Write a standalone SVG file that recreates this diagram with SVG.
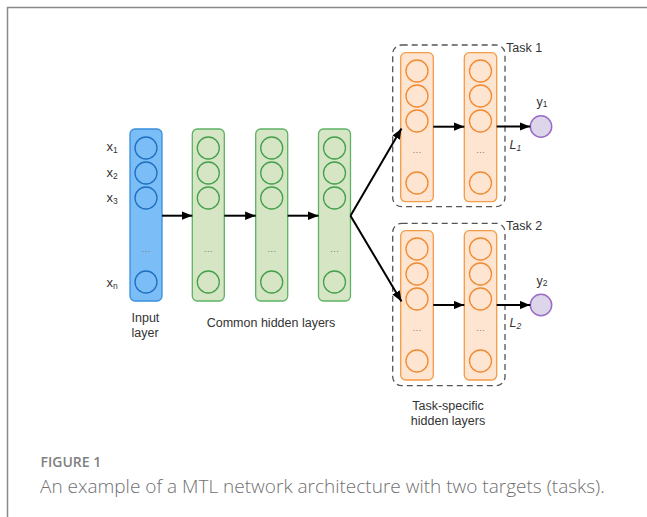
<svg xmlns="http://www.w3.org/2000/svg" width="647" height="517" viewBox="0 0 647 517">
<style>
text{font-family:"Liberation Sans",Arial,sans-serif;fill:#333}
.lbl{font-size:12.5px}
.xl{font-size:13px}
.sub{font-size:8.5px}
.dots{font-size:9px;fill:#777;text-anchor:middle}
.in rect{fill:#7bbef7;stroke:#3a8edc;stroke-width:1.3}
.in circle{fill:none;stroke:#1f6fc0;stroke-width:1.3}
.hid rect{fill:#d6e6c5;stroke:#5db265;stroke-width:1.3}
.hid circle{fill:none;stroke:#43a04c;stroke-width:1.3}
.tsk rect{fill:#fde5d2;stroke:#f59a45;stroke-width:1.3}
.tsk circle{fill:none;stroke:#f28a30;stroke-width:1.3}
.out circle{fill:#ddd6ea;stroke:#9a6cc8;stroke-width:1.5}
.box{fill:none;stroke:#555;stroke-width:1.3;stroke-dasharray:6,4}
.conn line{stroke:#000;stroke-width:2;marker-end:url(#ah)}
</style>
<defs>
<marker id="ah" viewBox="0 0 10 8" refX="10" refY="4" markerWidth="5.3" markerHeight="4.4" orient="auto" markerUnits="strokeWidth">
<path d="M0,0 L10,4 L0,8 z" fill="#000"/>
</marker>
</defs>
<path d="M7.5,517 V7.5 H647" fill="none" stroke="#8a8a8a" stroke-width="1.5"/>

<g id="task1-box"><rect class="box" x="392.7" y="45" width="112.3" height="161.7" rx="9"/><text class="lbl" x="506" y="51.5">Task 1</text></g>
<g id="task2-box"><rect class="box" x="392.7" y="223.3" width="112.3" height="162.4" rx="9"/><text class="lbl" x="506" y="230">Task 2</text></g>

<g id="input-layer" class="in">
<rect x="130" y="129" width="32" height="172" rx="5"/>
<circle cx="146" cy="148" r="11"/><circle cx="146" cy="173" r="11"/><circle cx="146" cy="198" r="11"/><circle cx="146" cy="282" r="11"/>
<text class="dots" x="146" y="254">···</text>
</g>
<g id="x-labels" class="xl">
<text x="106.5" y="150.5">x<tspan class="sub" dy="2">1</tspan></text>
<text x="106.5" y="176.5">x<tspan class="sub" dy="2">2</tspan></text>
<text x="106.5" y="201.5">x<tspan class="sub" dy="2">3</tspan></text>
<text x="106.5" y="286.5">x<tspan class="sub" dy="2">n</tspan></text>
</g>

<g id="hidden1" class="hid">
<rect x="192.3" y="129" width="32" height="172" rx="5"/>
<circle cx="208.3" cy="148" r="11"/><circle cx="208.3" cy="173" r="11"/><circle cx="208.3" cy="198" r="11"/><circle cx="208.3" cy="282" r="11"/>
<text class="dots" x="208.3" y="254">···</text>
</g>
<g id="hidden2" class="hid">
<rect x="255.7" y="129" width="32" height="172" rx="5"/>
<circle cx="271.7" cy="148" r="11"/><circle cx="271.7" cy="173" r="11"/><circle cx="271.7" cy="198" r="11"/><circle cx="271.7" cy="282" r="11"/>
<text class="dots" x="271.7" y="254">···</text>
</g>
<g id="hidden3" class="hid">
<rect x="318.5" y="129" width="32" height="172" rx="5"/>
<circle cx="334.5" cy="148" r="11"/><circle cx="334.5" cy="173" r="11"/><circle cx="334.5" cy="198" r="11"/><circle cx="334.5" cy="282" r="11"/>
<text class="dots" x="334.5" y="254">···</text>
</g>

<g id="task1-layer1" class="tsk">
<rect x="400.7" y="52.7" width="32.6" height="149" rx="5"/>
<circle cx="417" cy="71" r="11"/><circle cx="417" cy="96" r="11"/><circle cx="417" cy="121" r="11"/><circle cx="417" cy="183" r="11"/>
<text class="dots" x="417" y="155">···</text>
</g>
<g id="task1-layer2" class="tsk">
<rect x="464.3" y="52.7" width="32.4" height="149" rx="5"/>
<circle cx="480.5" cy="71" r="11"/><circle cx="480.5" cy="96" r="11"/><circle cx="480.5" cy="121" r="11"/><circle cx="480.5" cy="183" r="11"/>
<text class="dots" x="480.5" y="155">···</text>
</g>
<g id="task2-layer1" class="tsk">
<rect x="400.7" y="230.7" width="32.6" height="149.3" rx="5"/>
<circle cx="417" cy="249" r="11"/><circle cx="417" cy="274" r="11"/><circle cx="417" cy="299" r="11"/><circle cx="417" cy="361" r="11"/>
<text class="dots" x="417" y="333">···</text>
</g>
<g id="task2-layer2" class="tsk">
<rect x="464.3" y="230.7" width="32.4" height="149.3" rx="5"/>
<circle cx="480.5" cy="249" r="11"/><circle cx="480.5" cy="274" r="11"/><circle cx="480.5" cy="299" r="11"/><circle cx="480.5" cy="361" r="11"/>
<text class="dots" x="480.5" y="333">···</text>
</g>

<g id="output1" class="out"><circle cx="541" cy="126.5" r="10.7"/><text class="lbl" x="536.5" y="106">y<tspan class="sub" dy="1">1</tspan></text></g>
<g id="output2" class="out"><circle cx="541" cy="305" r="10.7"/><text class="lbl" x="536.5" y="284.5">y<tspan class="sub" dy="1">2</tspan></text></g>

<g id="connectors" class="conn">
<line x1="162" y1="215.7" x2="192.3" y2="215.7"/>
<line x1="224.3" y1="215.7" x2="255.7" y2="215.7"/>
<line x1="287.7" y1="215.7" x2="318.5" y2="215.7"/>
<line x1="350.5" y1="215.7" x2="401.5" y2="128.5"/>
<line x1="350.5" y1="215.7" x2="401.5" y2="301.5"/>
<line x1="433.3" y1="126.7" x2="464.3" y2="126.7"/>
<line x1="433.3" y1="305" x2="464.3" y2="305"/>
<line x1="496.7" y1="126.5" x2="530.3" y2="126.5"/>
<line x1="496.7" y1="305" x2="530.3" y2="305"/>
</g>
<g id="loss-labels" class="lbl" font-style="italic">
<text x="509.5" y="148.5">L<tspan class="sub" dy="2">1</tspan></text>
<text x="509.5" y="326.5">L<tspan class="sub" dy="2">2</tspan></text>
</g>

<g id="layer-labels" class="lbl">
<text x="131.5" y="321.5">Input</text>
<text x="131.5" y="336.5">layer</text>
<text x="271" y="327" text-anchor="middle">Common hidden layers</text>
<text x="448" y="410" text-anchor="middle">Task-specific</text>
<text x="448" y="425" text-anchor="middle">hidden layers</text>
</g>

<text x="40.5" y="466.7" style="font-family:'Open Sans','Liberation Sans',sans-serif;font-size:14px;font-weight:600;fill:#808080">FIGURE 1</text>
<text x="40" y="493.3" style="font-family:'Open Sans','Liberation Sans',sans-serif;font-size:19px;font-weight:300;fill:#707070">An example of a MTL network architecture with two targets (tasks).</text>
</svg>
